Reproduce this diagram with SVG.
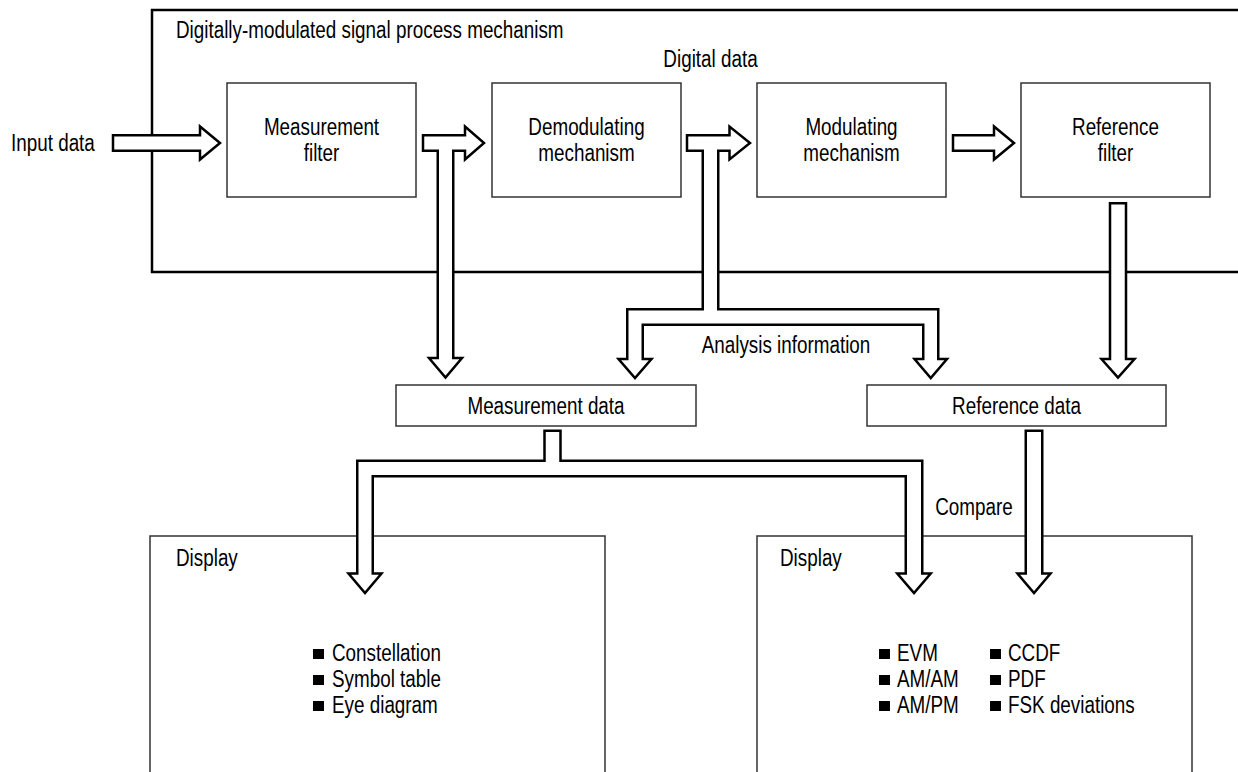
<svg xmlns="http://www.w3.org/2000/svg" width="1238" height="772" viewBox="0 0 1238 772">
<style>
.frame{fill:none;stroke:#000;stroke-width:2.5}
.box{fill:#fff;stroke:#333;stroke-width:1.5}
.arr{fill:#fff;stroke:#000;stroke-width:2.5;stroke-linejoin:miter}
.t{font-family:"Liberation Sans",Arial,Helvetica,sans-serif;font-size:23px;fill:#000}
.c{text-anchor:middle}
.b{fill:#000}
</style>
<rect width="1238" height="772" fill="#fff"/>
<g id="process-mechanism">
<path class="frame" d="M1245,10 H152 V272 H1245"/>
<text class="t" transform="translate(176,38) scale(0.82,1)">Digitally-modulated signal process mechanism</text>
</g>
<g id="measurement-filter">
<rect class="box" x="227" y="83" width="189" height="114"/>
<text class="t c" transform="translate(321.5,135) scale(0.82,1)">Measurement</text>
<text class="t c" transform="translate(321.5,161) scale(0.82,1)">filter</text>
</g>
<g id="demodulating-mechanism">
<rect class="box" x="492" y="83" width="189" height="114"/>
<text class="t c" transform="translate(586.5,135) scale(0.82,1)">Demodulating</text>
<text class="t c" transform="translate(586.5,161) scale(0.82,1)">mechanism</text>
</g>
<g id="modulating-mechanism">
<rect class="box" x="757" y="83" width="189" height="114"/>
<text class="t c" transform="translate(851.5,135) scale(0.82,1)">Modulating</text>
<text class="t c" transform="translate(851.5,161) scale(0.82,1)">mechanism</text>
</g>
<g id="reference-filter">
<rect class="box" x="1021" y="83" width="189" height="114"/>
<text class="t c" transform="translate(1115.5,135) scale(0.82,1)">Reference</text>
<text class="t c" transform="translate(1115.5,161) scale(0.82,1)">filter</text>
</g>
<g id="measurement-data">
<rect class="box" x="396" y="385" width="300" height="41"/>
<text class="t c" transform="translate(546,414) scale(0.82,1)">Measurement data</text>
</g>
<g id="reference-data">
<rect class="box" x="867" y="385" width="299" height="41"/>
<text class="t c" transform="translate(1016.5,414) scale(0.82,1)">Reference data</text>
</g>
<g id="display-left">
<rect class="box" x="150" y="536" width="455" height="260"/>
<text class="t" transform="translate(176,566) scale(0.82,1)">Display</text>
<rect class="b" x="313" y="649" width="11" height="10"/>
<text class="t" transform="translate(332,661) scale(0.82,1)">Constellation</text>
<rect class="b" x="313" y="675" width="11" height="10"/>
<text class="t" transform="translate(332,687) scale(0.82,1)">Symbol table</text>
<rect class="b" x="313" y="701" width="11" height="10"/>
<text class="t" transform="translate(332,713) scale(0.82,1)">Eye diagram</text>
</g>
<g id="display-right">
<rect class="box" x="757" y="536" width="435" height="260"/>
<text class="t" transform="translate(780,566) scale(0.82,1)">Display</text>
<rect class="b" x="879" y="649" width="11" height="10"/>
<text class="t" transform="translate(897,661) scale(0.82,1)">EVM</text>
<rect class="b" x="879" y="675" width="11" height="10"/>
<text class="t" transform="translate(897,687) scale(0.82,1)">AM/AM</text>
<rect class="b" x="879" y="701" width="11" height="10"/>
<text class="t" transform="translate(897,713) scale(0.82,1)">AM/PM</text>
<rect class="b" x="990" y="649" width="11" height="10"/>
<text class="t" transform="translate(1008,661) scale(0.82,1)">CCDF</text>
<rect class="b" x="990" y="675" width="11" height="10"/>
<text class="t" transform="translate(1008,687) scale(0.82,1)">PDF</text>
<rect class="b" x="990" y="701" width="11" height="10"/>
<text class="t" transform="translate(1008,713) scale(0.82,1)">FSK deviations</text>
</g>
<g id="connectors">
<path class="arr" d="M113,135.25 H200 V126.5 L220,143 L200,159.5 V150.75 H113 Z"/>
<path class="arr" d="M423,135.25 H465 V126.5 L484,143 L465,159.5 V150.75 H453.25 V358 H462 L445.5,377.5 L429,358 H437.75 V150.75 H423 Z"/>
<path class="arr" d="M687,135.25 H729.5 V126.5 L750,143 L729.5,159.5 V150.75 H718.25 V309.25 H938.25 V359 H947 L930.75,378 L914.5,359 H923.25 V324.75 H642.75 V359 H651.5 L635,378 L618.5,359 H627.25 V309.25 H702.75 V150.75 H687 Z"/>
<path class="arr" d="M953,135.25 H994 V126.5 L1014,143 L994,159.5 V150.75 H953 Z"/>
<path class="arr" d="M1110,203.25 H1126 V359 H1134.5 L1118,377.5 L1101.5,359 H1110 Z"/>
<path class="arr" d="M544.5,430.75 H560.5 V460.75 H922.25 V573.5 H930.75 L914,593 L897.25,573.5 H905.75 V476.25 H372.75 V573.5 H381.5 L365,593 L348.5,573.5 H357.25 V460.75 H544.5 Z"/>
<path class="arr" d="M1025.75,430.75 H1042.25 V573.5 H1050.5 L1034,593 L1017.5,573.5 H1025.75 Z"/>
<text class="t" transform="translate(11,151) scale(0.82,1)">Input data</text>
<text class="t c" transform="translate(710.5,67) scale(0.82,1)">Digital data</text>
<text class="t c" transform="translate(786,353) scale(0.82,1)">Analysis information</text>
<text class="t c" transform="translate(974,515) scale(0.82,1)">Compare</text>
</g>
</svg>
